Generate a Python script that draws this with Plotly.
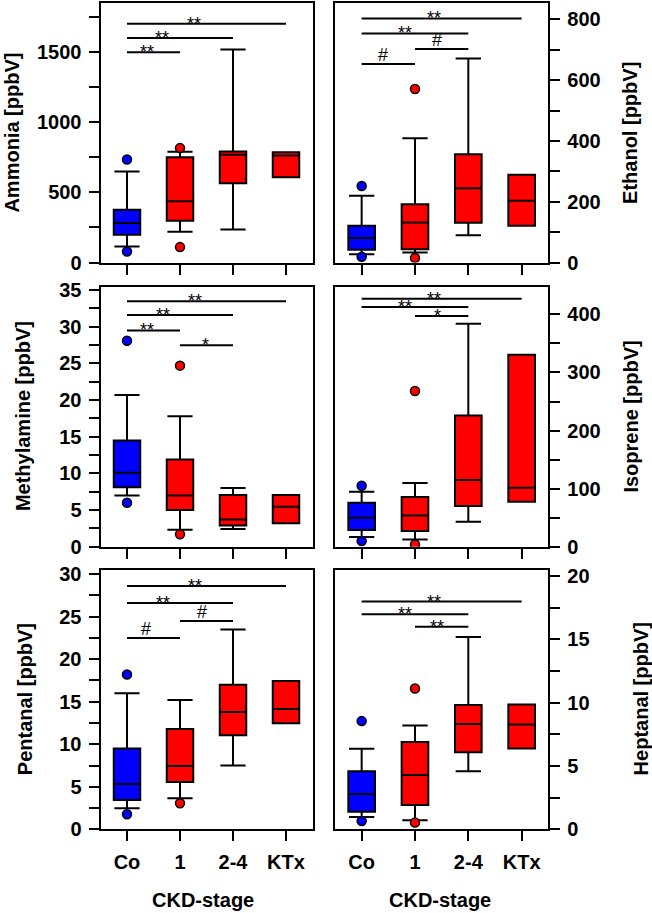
import plotly.graph_objects as go

W, H = 652, 913

categories = ["Co", "1", "2-4", "KTx"]
cat_pos = [1, 2, 3, 4]
colors = ["#0000FF", "#FF0000", "#FF0000", "#FF0000"]

# ---- panel data (q1, median, q3, lower whisker, upper whisker) ----
ammonia_q1 = [198, 299, 566, 609]
ammonia_med = [282, 437, 769, 764]
ammonia_q3 = [377, 752, 793, 788]
ammonia_lo = [115, 220, 236, 609]
ammonia_hi = [650, 790, 1521, 788]
ammonia_out_x = [1, 1, 2, 2]
ammonia_out_y = [736, 79, 817, 110]

ethanol_q1 = [42, 44, 131, 121]
ethanol_med = [81, 132, 244, 203]
ethanol_q3 = [121, 192, 356, 289]
ethanol_lo = [27, 33, 90, 121]
ethanol_hi = [220, 409, 671, 289]
ethanol_out_x = [1, 1, 2, 2]
ethanol_out_y = [252, 19, 571, 15]

methyl_q1 = [8.1, 5.0, 2.9, 3.2]
methyl_med = [10.1, 7.0, 3.7, 5.45]
methyl_q3 = [14.5, 11.9, 7.05, 7.05]
methyl_lo = [7.0, 2.3, 2.4, 3.2]
methyl_hi = [20.7, 17.8, 8.0, 7.05]
methyl_out_x = [1, 1, 2, 2]
methyl_out_y = [28.1, 6.0, 24.7, 1.7]

isoprene_q1 = [28.7, 27, 70, 77.5]
isoprene_med = [49.9, 53.9, 114.8, 101.6]
isoprene_q3 = [75.8, 85.5, 226, 330.6]
isoprene_lo = [16.6, 12.6, 43, 77.5]
isoprene_hi = [94.7, 109.6, 384, 330.6]
isoprene_out_x = [1, 1, 2, 2]
isoprene_out_y = [105, 9.8, 268, 4]

pentanal_q1 = [3.45, 5.57, 11.06, 12.47]
pentanal_med = [5.33, 7.45, 13.8, 14.16]
pentanal_q3 = [9.5, 11.8, 17.0, 17.45]
pentanal_lo = [2.47, 3.65, 7.5, 12.47]
pentanal_hi = [16.0, 15.2, 23.5, 17.45]
pentanal_out_x = [1, 1, 2]
pentanal_out_y = [18.2, 1.76, 3.06]

heptanal_q1 = [1.39, 1.92, 6.08, 6.39]
heptanal_med = [2.79, 4.29, 8.32, 8.29]
heptanal_q3 = [4.58, 6.89, 9.82, 9.87]
heptanal_lo = [0.97, 0.71, 4.58, 6.39]
heptanal_hi = [6.37, 8.21, 15.2, 9.87]
heptanal_out_x = [1, 1, 2, 2]
heptanal_out_y = [8.55, 0.66, 11.13, 0.53]

# ---- significance brackets: (from, to, level) and label (x, text) ----
ammonia_sig = [(1, 4, 1705), (1, 3, 1603), (1, 2, 1502)]
ammonia_lab = [(2.27, "**"), (1.66, "**"), (1.37, "**")]
ethanol_sig = [(1, 4, 803), (1, 3, 754), (2, 3, 703), (1, 2, 653)]
ethanol_lab = [(2.36, "**"), (1.81, "**"), (2.42, "#"), (1.40, "#")]
methyl_sig = [(1, 4, 33.5), (1, 3, 31.6), (1, 2, 29.5), (2, 3, 27.5)]
methyl_lab = [(2.29, "**"), (1.67, "**"), (1.37, "**"), (2.48, "*")]
isoprene_sig = [(1, 4, 427), (1, 3, 412.6), (2, 3, 397)]
isoprene_lab = [(2.36, "**"), (1.81, "**"), (2.42, "*")]
pentanal_sig = [(1, 4, 28.6), (1, 3, 26.6), (2, 3, 24.5), (1, 2, 22.5)]
pentanal_lab = [(2.29, "**"), (1.67, "**"), (2.42, "#"), (1.35, "#")]
heptanal_sig = [(1, 4, 18.0), (1, 3, 17.0), (2, 3, 16.0)]
heptanal_lab = [(2.36, "**"), (1.81, "**"), (2.41, "**")]

# ---- axis ticks ----
ammonia_ticks = [0, 250, 500, 750, 1000, 1250, 1500, 1750]
ammonia_ticktext = ["0", "", "500", "", "1000", "", "1500", ""]
ethanol_ticks = [0, 100, 200, 300, 400, 500, 600, 700, 800]
ethanol_ticktext = ["0", "", "200", "", "400", "", "600", "", "800"]
methyl_ticks = [0, 2.5, 5, 7.5, 10, 12.5, 15, 17.5, 20, 22.5, 25, 27.5, 30, 32.5, 35]
methyl_ticktext = ["0", "", "5", "", "10", "", "15", "", "20", "", "25", "", "30", "", "35"]
isoprene_ticks = [0, 50, 100, 150, 200, 250, 300, 350, 400]
isoprene_ticktext = ["0", "", "100", "", "200", "", "300", "", "400"]
pentanal_ticks = [0, 2.5, 5, 7.5, 10, 12.5, 15, 17.5, 20, 22.5, 25, 27.5, 30]
pentanal_ticktext = ["0", "", "5", "", "10", "", "15", "", "20", "", "25", "", "30"]
heptanal_ticks = [0, 2.5, 5, 7.5, 10, 12.5, 15, 17.5, 20]
heptanal_ticktext = ["0", "", "5", "", "10", "", "15", "", "20"]

y_titles = ["Ammonia [ppbV]", "Ethanol [ppbV]", "Methylamine [ppbV]",
            "Isoprene [ppbV]", "Pentanal [ppbV]", "Heptanal [ppbV]"]
x_title = "CKD-stage"

panels = [
    dict(q1=ammonia_q1, med=ammonia_med, q3=ammonia_q3, lo=ammonia_lo, hi=ammonia_hi,
         ox=ammonia_out_x, oy=ammonia_out_y, sig=ammonia_sig, lab=ammonia_lab,
         ticks=ammonia_ticks, ticktext=ammonia_ticktext, ymax=1851),
    dict(q1=ethanol_q1, med=ethanol_med, q3=ethanol_q3, lo=ethanol_lo, hi=ethanol_hi,
         ox=ethanol_out_x, oy=ethanol_out_y, sig=ethanol_sig, lab=ethanol_lab,
         ticks=ethanol_ticks, ticktext=ethanol_ticktext, ymax=853),
    dict(q1=methyl_q1, med=methyl_med, q3=methyl_q3, lo=methyl_lo, hi=methyl_hi,
         ox=methyl_out_x, oy=methyl_out_y, sig=methyl_sig, lab=methyl_lab,
         ticks=methyl_ticks, ticktext=methyl_ticktext, ymax=35.5),
    dict(q1=isoprene_q1, med=isoprene_med, q3=isoprene_q3, lo=isoprene_lo, hi=isoprene_hi,
         ox=isoprene_out_x, oy=isoprene_out_y, sig=isoprene_sig, lab=isoprene_lab,
         ticks=isoprene_ticks, ticktext=isoprene_ticktext, ymax=448),
    dict(q1=pentanal_q1, med=pentanal_med, q3=pentanal_q3, lo=pentanal_lo, hi=pentanal_hi,
         ox=pentanal_out_x, oy=pentanal_out_y, sig=pentanal_sig, lab=pentanal_lab,
         ticks=pentanal_ticks, ticktext=pentanal_ticktext, ymax=30.55),
    dict(q1=heptanal_q1, med=heptanal_med, q3=heptanal_q3, lo=heptanal_lo, hi=heptanal_hi,
         ox=heptanal_out_x, oy=heptanal_out_y, sig=heptanal_sig, lab=heptanal_lab,
         ticks=heptanal_ticks, ticktext=heptanal_ticktext, ymax=20.53),
]

FONT = "Liberation Sans, Arial, Helvetica, sans-serif"
FS = 20

# layout geometry (pixels)
col_x = [(100.5, 312.5), (335.0, 548.3)]
row_y = [(3.3, 262.5), (286.5, 546.7), (569.5, 829.3)]
ytitle_x = [11.7, 630, 22.5, 631, 25.8, 641]

fig = go.Figure()
layout = dict(
    template="none",
    width=W, height=H, margin=dict(l=0, r=0, t=0, b=0, pad=0, autoexpand=False),
    paper_bgcolor="white", plot_bgcolor="white", showlegend=False,
    boxmode="overlay",
    font=dict(family=FONT, size=FS, color="black"),
)
annotations = []

for i, p in enumerate(panels):
    r, c = divmod(i, 2)
    k = "" if i == 0 else str(i + 1)
    xa, ya = "x" + k, "y" + k
    x0, x1 = col_x[c]
    yt, yb = row_y[r]

    groups = [([0], colors[0]), ([1, 2, 3], colors[1])]
    for idx, col in groups:
        fig.add_trace(go.Box(
            x=[cat_pos[j] for j in idx],
            q1=[p["q1"][j] for j in idx], median=[p["med"][j] for j in idx],
            q3=[p["q3"][j] for j in idx],
            lowerfence=[p["lo"][j] for j in idx], upperfence=[p["hi"][j] for j in idx],
            width=0.5, whiskerwidth=0.95, boxpoints=False,
            fillcolor=col, line=dict(color="black", width=2),
            xaxis=xa, yaxis=ya, hoverinfo="skip",
        ))
    for (a, b, lv) in p["sig"]:
        fig.add_trace(go.Scatter(x=[a, b], y=[lv, lv], mode="lines",
                                 line=dict(color="black", width=2),
                                 xaxis=xa, yaxis=ya, hoverinfo="skip"))
    fig.add_trace(go.Scatter(
        x=p["ox"], y=p["oy"], mode="markers",
        marker=dict(size=9, color=[colors[int(v) - 1] for v in p["ox"]],
                    line=dict(color="black", width=1.5)),
        xaxis=xa, yaxis=ya, hoverinfo="skip"))
    for (lx, txt), (a, b, lv) in zip(p["lab"], p["sig"]):
        annotations.append(dict(
            x=lx, y=lv, xref=xa, yref=ya, text=txt, showarrow=False,
            xanchor="center", yanchor="bottom",
            yshift=-12 if "*" in txt else -3,
            font=dict(family=FONT, size=18, color="black")))

    xaxis = dict(
        domain=[x0 / W, x1 / W], range=[0.5, 4.5], anchor=ya, automargin=False,
        tickvals=cat_pos, ticktext=categories, showticklabels=(r == 2),
        ticks="outside", ticklen=10, tickwidth=2, tickcolor="black",
        showline=True, linewidth=2, linecolor="black", mirror=True,
        showgrid=False, zeroline=False, ticklabelstandoff=4,
        tickfont=dict(family=FONT, size=FS, color="black", weight="bold"),
    )
    yaxis = dict(
        domain=[1 - yb / H, 1 - yt / H], range=[0, p["ymax"]], anchor=xa, automargin=False,
        side="left" if c == 0 else "right",
        tickvals=p["ticks"], ticktext=p["ticktext"],
        ticks="outside", ticklen=10, tickwidth=2, tickcolor="black",
        showline=True, linewidth=2, linecolor="black", mirror=True,
        showgrid=False, zeroline=False, ticklabelstandoff=3,
        tickfont=dict(family=FONT, size=FS, color="black", weight="bold"),
    )
    layout["xaxis" + k] = xaxis
    layout["yaxis" + k] = yaxis

    annotations.append(dict(
        x=ytitle_x[i] / W, y=1 - (yt + yb) / 2 / H, xref="paper", yref="paper",
        text=y_titles[i], textangle=-90, showarrow=False,
        xanchor="center", yanchor="middle",
        font=dict(family=FONT, size=FS, color="black", weight="bold")))

for c in range(2):
    x0, x1 = col_x[c]
    annotations.append(dict(
        x=((x0 + x1) / 2 - (4 if c == 0 else 2)) / W, y=1 - 900 / H,
        xref="paper", yref="paper", text=x_title, showarrow=False,
        xanchor="center", yanchor="middle",
        font=dict(family=FONT, size=FS, color="black", weight="bold")))

layout["annotations"] = annotations
fig.update_layout(**layout)
fig.write_html("out.html",
               config={"displayModeBar": False, "staticPlot": True},
               post_script="document.body.style.margin='0px';document.body.style.overflow='hidden';")
